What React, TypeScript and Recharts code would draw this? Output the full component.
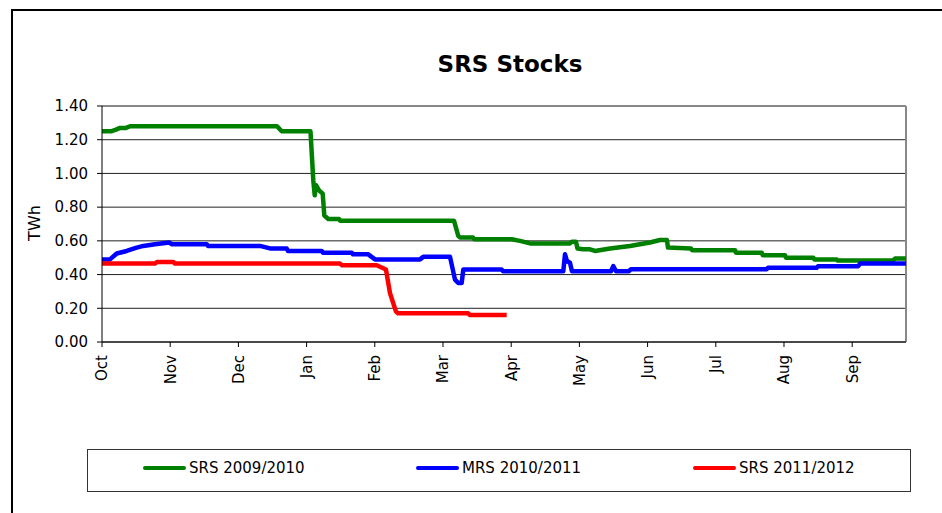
import React from 'react';
import { LineChart, Line, XAxis, YAxis, CartesianGrid, ReferenceLine } from 'recharts';

// x values are months since 1 Oct (0 = Oct, 1 = Nov, ...)
const monthLabels = ['Oct', 'Nov', 'Dec', 'Jan', 'Feb', 'Mar', 'Apr', 'May', 'Jun', 'Jul', 'Aug', 'Sep'];
const monthTicks = [0, 1, 2, 3, 4, 5, 6, 7, 8, 9, 10, 11];
const yTicks = [0, 0.2, 0.4, 0.6, 0.8, 1.0, 1.2, 1.4];
const xEnd = 11.789;

const srs0910X = [0, 0.132, 0.205, 0.264, 0.352, 0.411, 2.566, 2.635, 3.057, 3.098, 3.119, 3.138, 3.182, 3.236, 3.26, 3.318, 3.475, 3.49, 5.161, 5.224, 5.249, 5.44, 5.455, 6.007, 6.129, 6.276, 6.862, 6.891, 6.95, 6.972, 7.053, 7.155, 7.229, 7.449, 7.742, 8.035, 8.182, 8.284, 8.299, 8.636, 8.651, 9.282, 9.296, 9.673, 9.688, 10.015, 10.029, 10.43, 10.444, 10.773, 10.787, 11.598, 11.628, 11.789];
const srs0910Y = [1.25, 1.25, 1.26, 1.27, 1.27, 1.28, 1.28, 1.25, 1.25, 0.96, 0.87, 0.93, 0.9, 0.88, 0.75, 0.73, 0.73, 0.72, 0.72, 0.63, 0.62, 0.62, 0.61, 0.61, 0.6, 0.585, 0.585, 0.595, 0.595, 0.555, 0.55, 0.55, 0.54, 0.555, 0.57, 0.59, 0.605, 0.605, 0.56, 0.555, 0.545, 0.545, 0.53, 0.53, 0.515, 0.515, 0.5, 0.5, 0.49, 0.49, 0.483, 0.483, 0.495, 0.495];

const mrs1011X = [0, 0.117, 0.216, 0.362, 0.509, 0.606, 0.777, 0.987, 1.026, 1.535, 1.554, 2.317, 2.463, 2.708, 2.727, 3.221, 3.24, 3.661, 3.68, 3.905, 4.003, 4.663, 4.711, 5.103, 5.176, 5.224, 5.274, 5.298, 5.861, 5.88, 6.764, 6.789, 6.818, 6.862, 6.891, 7.463, 7.497, 7.537, 7.727, 7.757, 9.746, 9.765, 10.479, 10.499, 11.09, 11.114, 11.789];
const mrs1011Y = [0.49, 0.49, 0.525, 0.54, 0.56, 0.57, 0.58, 0.59, 0.58, 0.58, 0.57, 0.57, 0.555, 0.555, 0.54, 0.54, 0.53, 0.53, 0.52, 0.52, 0.49, 0.49, 0.505, 0.505, 0.37, 0.35, 0.35, 0.43, 0.43, 0.42, 0.42, 0.52, 0.48, 0.47, 0.42, 0.42, 0.45, 0.42, 0.42, 0.432, 0.432, 0.44, 0.44, 0.45, 0.45, 0.465, 0.465];

const srs1112X = [0, 0.777, 0.806, 1.045, 1.07, 3.49, 3.519, 4.028, 4.164, 4.223, 4.271, 4.311, 4.34, 5.371, 5.396, 5.934];
const srs1112Y = [0.465, 0.465, 0.475, 0.475, 0.465, 0.465, 0.455, 0.455, 0.43, 0.29, 0.23, 0.18, 0.17, 0.17, 0.16, 0.16];

const seriesNames = ['SRS 2009/2010', 'MRS 2010/2011', 'SRS 2011/2012'];
const seriesColors = ['#008000', '#0000FF', '#FF0000'];

const toData = (xs: number[], ys: number[]) => xs.map((x, i) => ({ x, v: ys[i] }));
const seriesData = [toData(srs0910X, srs0910Y), toData(mrs1011X, mrs1011Y), toData(srs1112X, srs1112Y)];

const FONT = '"DejaVu Sans", "Liberation Sans", Arial, sans-serif';

const XTick = (props: any) => {
  const { x, y, payload } = props;
  return (
    <g transform={`translate(${x},${y})`}>
      <text transform="rotate(-90)" x={0} y={0} dy="0.36em" textAnchor="end" fontSize={15} fontFamily={FONT} fill="#000">
        {monthLabels[payload.value]}
      </text>
    </g>
  );
};

const YLabel = () => (
  <text x={34} y={223} transform="rotate(-90, 34, 223)" textAnchor="middle" dominantBaseline="central" fontSize={16} fontFamily={FONT} fill="#000">
    TWh
  </text>
);

const legendLefts = [55, 328, 605];

export default function App() {
  return (
    <div style={{ position: 'absolute', left: 0, top: 0, width: 942, height: 513, overflow: 'hidden', background: '#fff', fontFamily: FONT }}>
      <div style={{ position: 'absolute', left: 11, top: 9, width: 1000, height: 1000, borderLeft: '2px solid #000', borderTop: '2px solid #000' }} />
      <div style={{ position: 'absolute', left: 310, top: 53, width: 400, textAlign: 'center', fontSize: 23, lineHeight: '23px', fontWeight: 'bold', color: '#000' }}>
        SRS Stocks
      </div>
      <LineChart width={942} height={513} margin={{ top: 106, right: 36, left: 0, bottom: 0 }} style={{ position: 'absolute', left: 0, top: 0 }}>
        <CartesianGrid vertical={false} stroke="#222" strokeWidth={1} />
        <XAxis
          type="number"
          dataKey="x"
          domain={[0, xEnd]}
          ticks={monthTicks}
          allowDataOverflow
          height={171}
          tick={<XTick />}
          tickSize={5}
          tickMargin={8}
          axisLine={{ stroke: '#000' }}
          tickLine={{ stroke: '#000' }}
          interval={0}
        />
        <YAxis
          type="number"
          domain={[0, 1.4]}
          ticks={yTicks}
          width={102}
          tickSize={5}
          tickMargin={9}
          tickFormatter={(v: number) => v.toFixed(2)}
          tick={{ fontSize: 15, fontFamily: FONT, fill: '#000' }}
          axisLine={{ stroke: '#000' }}
          tickLine={{ stroke: '#000' }}
          interval={0}
          label={<YLabel />}
        />
        <ReferenceLine y={1.4} stroke="#888" strokeWidth={2} />
        <ReferenceLine x={xEnd} stroke="#888" strokeWidth={2} />
        {seriesData.map((d, i) => (
          <Line
            key={seriesNames[i]}
            data={d}
            dataKey="v"
            name={seriesNames[i]}
            type="linear"
            stroke={seriesColors[i]}
            strokeWidth={4.5}
            dot={false}
            activeDot={false}
            strokeLinejoin="round"
            isAnimationActive={false}
          />
        ))}
      </LineChart>
      <div style={{ position: 'absolute', left: 87, top: 449, width: 822, height: 41, border: '1px solid #333', background: '#fff' }}>
        {seriesNames.map((n, i) => (
          <div key={n} style={{ position: 'absolute', left: legendLefts[i], top: 0, height: 36, display: 'flex', alignItems: 'center', fontSize: 15, color: '#000', whiteSpace: 'nowrap' }}>
            <span style={{ display: 'inline-block', width: 43, height: 4, borderRadius: 2, background: seriesColors[i], marginRight: 3 }} />
            <span>{n}</span>
          </div>
        ))}
      </div>
    </div>
  );
}
